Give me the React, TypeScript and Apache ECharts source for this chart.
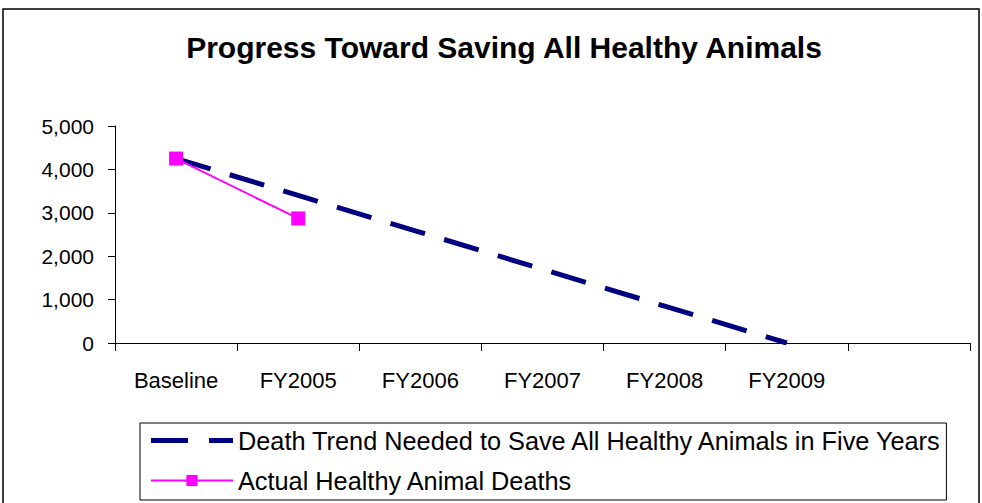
import React, { useEffect, useRef } from "react";
import * as echarts from "echarts";

const categories = ["Baseline", "FY2005", "FY2006", "FY2007", "FY2008", "FY2009", ""];
const trendValues = [4250, 3400, 2550, 1700, 850, 0];
const actualValues = [4250, 2870];
const trendName = "Death Trend Needed to Save All Healthy Animals in Five Years";
const actualName = "Actual Healthy Animal Deaths";
const titleText = "Progress Toward Saving All Healthy Animals";

const FONT = "'Liberation Sans', Arial, sans-serif";
const DASH_ICON = "path://M0,0H37V5H0Z M58,0H82V5H58Z";

export default function App() {
  const ref = useRef<HTMLDivElement>(null);
  useEffect(() => {
    document.body.style.margin = "0";
    const chart = echarts.init(ref.current!, null, { renderer: "svg" });
    chart.setOption({
      animation: false,
      backgroundColor: "#fff",
      textStyle: { fontFamily: FONT, color: "#000" },
      title: {
        text: titleText,
        left: 499,
        textAlign: "center",
        top: 27,
        textStyle: { fontFamily: FONT, fontSize: 30, fontWeight: "bold", color: "#000" },
      },
      graphic: [
        {
          type: "rect",
          shape: { x: 3, y: 9, width: 976, height: 510 },
          style: { fill: "none", stroke: "#000", lineWidth: 1.5 },
          silent: true,
        },
      ],
      grid: { left: 115, right: 12, top: 126, bottom: 160 },
      legend: {
        orient: "vertical",
        left: 140,
        top: 423,
        itemWidth: 82,
        itemHeight: 14,
        itemGap: 15,
        padding: [5, 3, 7, 10],
        borderColor: "#000",
        borderWidth: 1,
        textStyle: { fontFamily: FONT, fontSize: 25.3, color: "#000" },
        data: [
          { name: trendName, icon: DASH_ICON, itemStyle: { color: "#000080" } },
          { name: actualName },
        ],
      },
      xAxis: {
        type: "category",
        data: categories,
        boundaryGap: true,
        axisLine: { lineStyle: { color: "#000", width: 1 } },
        axisTick: { show: true, interval: 0, length: 8, lineStyle: { color: "#000" } },
        axisLabel: { interval: 0, fontSize: 22, color: "#000", fontFamily: FONT, margin: 26 },
        splitLine: { show: false },
      },
      yAxis: {
        type: "value",
        min: 0,
        max: 5000,
        interval: 1000,
        axisLine: { show: true, lineStyle: { color: "#000", width: 1 } },
        axisTick: { show: true, length: 7, lineStyle: { color: "#000" } },
        axisLabel: {
          fontSize: 21,
          color: "#000",
          fontFamily: FONT,
          margin: 21,
          formatter: (v: number) => v.toLocaleString("en-US"),
        },
        splitLine: { show: false },
      },
      series: [
        {
          name: trendName,
          type: "line",
          data: trendValues,
          symbol: "none",
          color: "#000080",
          lineStyle: { color: "#000080", width: 5, type: [36, 20] },
          z: 2,
        },
        {
          name: actualName,
          type: "line",
          data: actualValues,
          symbol: "rect",
          symbolSize: 14,
          color: "#FF00FF",
          itemStyle: { color: "#FF00FF" },
          lineStyle: { color: "#FF00FF", width: 2 },
          z: 3,
        },
      ],
    });
    return () => chart.dispose();
  }, []);
  return <div ref={ref} style={{ width: 982, height: 503 }} />;
}
